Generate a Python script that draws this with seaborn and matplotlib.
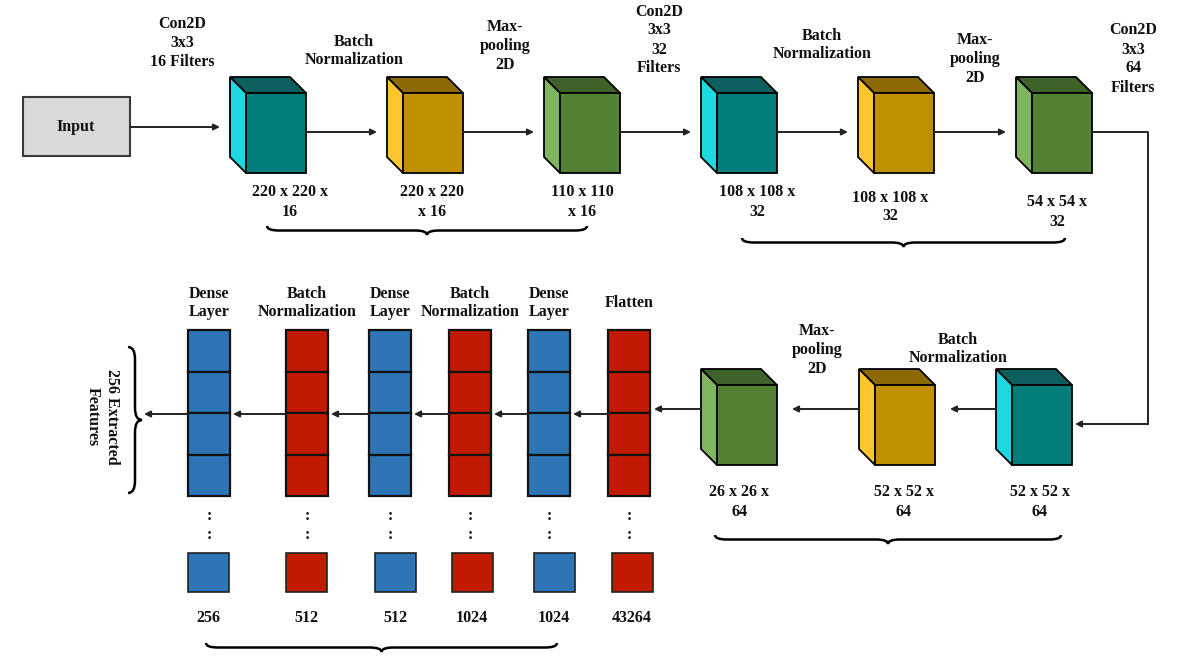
import numpy as np
import matplotlib.pyplot as plt
import seaborn as sns
from matplotlib.patches import Polygon, Rectangle, PathPatch
from matplotlib.path import Path

# ---- diagram content ----
top_titles = ['Con2D\n3x3\n16 Filters', 'Batch\nNormalization', 'Max-\npooling\n2D',
              'Con2D\n3x3\n32\nFilters', 'Batch\nNormalization', 'Max-\npooling\n2D',
              'Con2D\n3x3\n64\nFilters']
top_shapes = ['220 x 220 x\n16', '220 x 220\nx 16', '110 x 110\nx 16',
              '108 x 108 x\n32', '108 x 108 x\n32', '54 x 54 x\n32']
top_kinds = ['conv', 'bn', 'pool', 'conv', 'bn', 'pool']

# bottom row, read right to left
bottom_titles = ['Batch\nNormalization', 'Max-\npooling\n2D']
bottom_shapes = ['52 x 52 x\n64', '52 x 52 x\n64', '26 x 26 x\n64']
bottom_kinds = ['conv', 'bn', 'pool']

# dense part, left to right
dense_titles = ['Dense\nLayer', 'Batch\nNormalization', 'Dense\nLayer',
                'Batch\nNormalization', 'Dense\nLayer', 'Flatten']
dense_units = ['256', '512', '512', '1024', '1024', '43264']
dense_kinds = ['dense', 'bn', 'dense', 'bn', 'dense', 'flat']

input_label = 'Input'
output_label = '256 Extracted\nFeatures'

# ---- layout ----
W, H, D = 60, 80, 16
top_x, top_y = [246, 403, 560, 717, 874, 1032], 93
bot_x, bot_y = [1012, 875, 717], 385
top_title_xy = [(182, 43), (354, 51), (505, 46), (659, 40), (822, 45), (975, 59), (1133, 59)]
top_shape_xy = [(290, 202), (432, 202), (582, 202), (757, 202), (890, 207), (1057, 212)]
bot_title_xy = [(958, 349), (817, 350)]
bot_shape_xy = [(1040, 502), (904, 502), (739, 502)]
col_x, col_top, CW, cell_h = [188, 286, 369, 449, 528, 608], 330, 42, 41.5
sq_x, sq_y, SQ = [188, 286, 375, 452, 534, 612], 553, 40

face = {
    'conv': ('#037d7b', '#1cd8e0', '#0c5f5e'),
    'bn': ('#bf9000', '#fdc62c', '#8d6a00'),
    'pool': ('#548235', '#7eb55d', '#3f6228'),
}
col_color = {'dense': '#2e75b6', 'bn': '#c21a00', 'flat': '#c21a00'}

sns.set_theme(style='white')
plt.rcParams['font.family'] = ['Liberation Serif', 'DejaVu Serif']
TXT = dict(fontsize=11.5, fontweight='bold', ha='center', va='center',
           linespacing=1.25, color='#111111')

fig = plt.figure(figsize=(12, 6.71), dpi=100)
ax = fig.add_axes([0, 0, 1, 1])
ax.set_xlim(0, 1200)
ax.set_ylim(671, 0)
ax.axis('off')


def cube(x, y, kind):
    front, side, top = face[kind]
    ax.add_patch(Polygon([(x - D, y - D), (x + W - D, y - D), (x + W, y), (x, y)],
                         closed=True, fc=top, ec='black', lw=1.3))
    ax.add_patch(Polygon([(x - D, y - D), (x, y), (x, y + H), (x - D, y + H - D)],
                         closed=True, fc=side, ec='black', lw=1.3))
    ax.add_patch(Rectangle((x, y), W, H, fc=front, ec='black', lw=1.3))


def arrow(x0, y0, x1, y1):
    ax.annotate('', xy=(x1, y1), xytext=(x0, y0),
                arrowprops=dict(arrowstyle='-|>', color='#222222', lw=1.4,
                                mutation_scale=9, shrinkA=0, shrinkB=0))


def brace(p0, p1, normal, h, q=12):
    p0, p1, nrm = np.array(p0, float), np.array(p1, float), np.array(normal, float)
    L = np.linalg.norm(p1 - p0)
    u = (p1 - p0) / L
    pts = [(0, 0), (0, h / 2), (q, h / 2), (L / 2 - q, h / 2), (L / 2, h / 2), (L / 2, h),
           (L / 2, h / 2), (L / 2 + q, h / 2), (L - q, h / 2), (L, h / 2), (L, 0)]
    codes = [Path.MOVETO, Path.CURVE3, Path.CURVE3, Path.LINETO, Path.CURVE3, Path.CURVE3,
             Path.CURVE3, Path.CURVE3, Path.LINETO, Path.CURVE3, Path.CURVE3]
    verts = [p0 + s * u + t * nrm for s, t in pts]
    ax.add_patch(PathPatch(Path(verts, codes), fc='none', ec='black', lw=1.8))


# input box
ax.add_patch(Rectangle((23, 97), 107, 59, fc='#d9d9d9', ec='#3a3a3a', lw=1.5))
ax.text(76, 127, input_label, **TXT)
arrow(130, 127, top_x[0] - D - 10, 127)

# top row
for i, (x, kind) in enumerate(zip(top_x, top_kinds)):
    cube(x, top_y, kind)
    ax.text(*top_shape_xy[i], top_shapes[i], multialignment='center', **TXT)
    if i + 1 < len(top_x):
        arrow(x + W, top_y + 39, top_x[i + 1] - D - 10, top_y + 39)
for (tx, ty), t in zip(top_title_xy, top_titles):
    ax.text(tx, ty, t, **TXT)

# connector down to the bottom row
ax.plot([top_x[-1] + W, 1148, 1148], [top_y + 39, top_y + 39, 424], color='#222222', lw=1.4)
arrow(1148, 424, bot_x[0] + W + 3, 424)

# bottom row
for i, (x, kind) in enumerate(zip(bot_x, bottom_kinds)):
    cube(x, bot_y, kind)
    ax.text(*bot_shape_xy[i], bottom_shapes[i], multialignment='center', **TXT)
    if i + 1 < len(bot_x):
        arrow(x - D, 409, bot_x[i + 1] + W + 15, 409)
for (tx, ty), t in zip(bot_title_xy, bottom_titles):
    ax.text(tx, ty, t, **TXT)
arrow(bot_x[-1] - D, 409, col_x[-1] + CW + 4, 409)

# dense columns
for i, (x, kind) in enumerate(zip(col_x, dense_kinds)):
    c = col_color[kind]
    for k in range(4):
        ax.add_patch(Rectangle((x, col_top + k * cell_h), CW, cell_h, fc=c, ec='#111111', lw=1.6))
    cx = x + CW / 2
    ax.text(cx, 303, dense_titles[i], **TXT)
    ax.text(cx, 516, ':', **TXT)
    ax.text(cx, 535, ':', **TXT)
    ax.add_patch(Rectangle((sq_x[i], sq_y), SQ + 1, SQ - 1, fc=c, ec='#222222', lw=1.2))
    ax.text(sq_x[i] + SQ / 2, 618, dense_units[i], **TXT)
    end = col_x[i - 1] + CW + 3 if i > 0 else 144
    arrow(x, 414, end, 414)

# braces
brace((267, 226), (587, 226), (0, 1), 9)
brace((742, 238), (1065, 238), (0, 1), 9)
brace((715, 535), (1061, 535), (0, 1), 9)
brace((206, 643), (557, 643), (0, 1), 9)
brace((128, 347), (128, 493), (1, 0), 14)
ax.text(102, 417, output_label, rotation=-90, **TXT)

fig.savefig('out.png', dpi=100)
